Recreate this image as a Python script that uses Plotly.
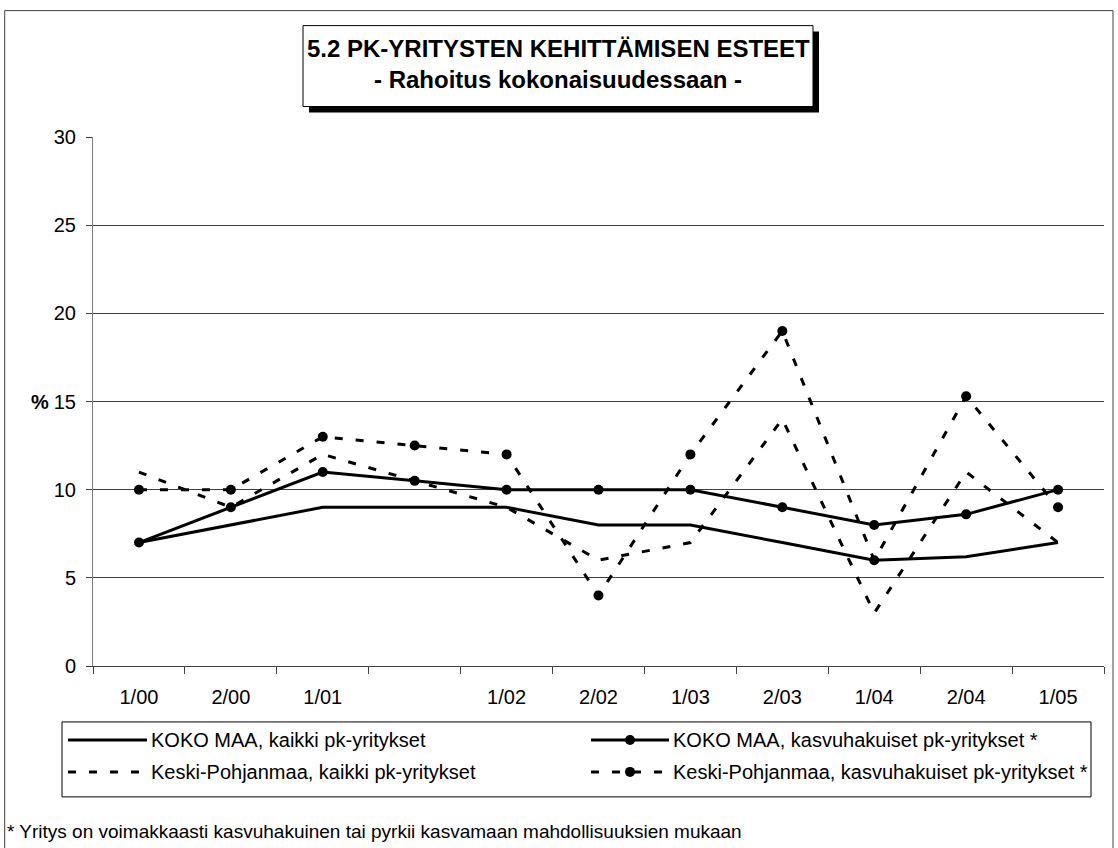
import plotly.graph_objects as go

# ---- data ----
categories = ["1/00", "2/00", "1/01", "", "1/02", "2/02", "1/03", "2/03", "1/04", "2/04", "1/05"]
koko_kaikki = [7, 8, 9, 9, 9, 8, 8, 7, 6, 6.2, 7]
koko_kasvu = [7, 9, 11, 10.5, 10, 10, 10, 9, 8, 8.6, 10]
keski_kaikki = [11, 9, 12, 10.5, 9, 6, 7, 14, 3, 11, 7]
keski_kasvu = [10, 10, 13, 12.5, 12, 4, 12, 19, 6, 15.3, 9]

series_names = [
    "KOKO MAA, kaikki pk-yritykset",
    "KOKO MAA, kasvuhakuiset pk-yritykset *",
    "Keski-Pohjanmaa, kaikki pk-yritykset",
    "Keski-Pohjanmaa, kasvuhakuiset pk-yritykset *",
]
y_ticks = [0, 5, 10, 15, 20, 25, 30]
title_lines = ["5.2 PK-YRITYSTEN KEHITTÄMISEN ESTEET", "- Rahoitus kokonaisuudessaan -"]
footnote = "* Yritys on voimakkaasti kasvuhakuinen tai pyrkii kasvamaan mahdollisuuksien mukaan"

# ---- geometry (pixels) ----
W, H = 1118, 848
L, R, T, B = 93, 1104, 136.5, 666
PW, PH = R - L, B - T
FONT = "Liberation Sans, Arial, sans-serif"
DASH = "8px,13px"
LW = 3
MS = 10


def px(x):
    return (x - L) / PW


def py(y):
    return (B - y) / PH


xs = list(range(len(categories)))

fig = go.Figure()
styles = [
    (koko_kaikki, "solid", "lines"),
    (koko_kasvu, "solid", "lines+markers"),
    (keski_kaikki, DASH, "lines"),
    (keski_kasvu, DASH, "lines+markers"),
]
for (vals, dash, mode), name in zip(styles, series_names):
    fig.add_trace(go.Scatter(
        x=xs, y=vals, name=name, mode=mode,
        line=dict(color="black", width=LW, dash=dash),
        marker=dict(color="black", size=MS, symbol="circle"),
        showlegend=False, cliponaxis=False,
    ))

shapes = []
# outer border
shapes.append(dict(type="rect", xref="paper", yref="paper",
                   x0=px(4.7), x1=px(1113), y0=py(10), y1=py(860),
                   line=dict(color="#404040", width=1), fillcolor="rgba(0,0,0,0)", layer="below"))
# title box shadow + box
shapes.append(dict(type="rect", xref="paper", yref="paper",
                   x0=px(309), x1=px(819), y0=py(31), y1=py(112),
                   line=dict(width=0), fillcolor="black", layer="above"))
shapes.append(dict(type="rect", xref="paper", yref="paper",
                   x0=px(303), x1=px(813), y0=py(25), y1=py(106),
                   line=dict(color="black", width=1), fillcolor="white", layer="above"))
# legend box
shapes.append(dict(type="rect", xref="paper", yref="paper",
                   x0=px(62), x1=px(1091), y0=py(722), y1=py(797),
                   line=dict(color="black", width=1), fillcolor="rgba(0,0,0,0)", layer="above"))

legend_items = [
    (series_names[0], 68, 147, 740, "solid", False),
    (series_names[1], 591, 669, 740, "solid", True),
    (series_names[2], 68, 147, 772, DASH, False),
    (series_names[3], 591, 669, 772, DASH, True),
]
annotations = []
for name, x0, x1, yy, dash, mk in legend_items:
    shapes.append(dict(type="line", xref="paper", yref="paper",
                       x0=px(x0), x1=px(x1), y0=py(yy), y1=py(yy),
                       line=dict(color="black", width=LW, dash=dash), layer="above"))
    if mk:
        cx = (x0 + x1) / 2
        shapes.append(dict(type="circle", xref="paper", yref="paper",
                           x0=px(cx - MS / 2), x1=px(cx + MS / 2),
                           y0=py(yy - MS / 2), y1=py(yy + MS / 2),
                           line=dict(color="black", width=0), fillcolor="black", layer="above"))
    annotations.append(dict(xref="paper", yref="paper", x=px(x1 + 2), y=py(yy),
                            xanchor="left", yanchor="middle", showarrow=False,
                            text=name, font=dict(family=FONT, size=20, color="black")))

# title
for txt, yy in zip(title_lines, [48, 79]):
    annotations.append(dict(xref="paper", yref="paper", x=px(558), y=py(yy),
                            xanchor="center", yanchor="middle", showarrow=False,
                            text="<b>" + txt + "</b>",
                            font=dict(family=FONT, size=24, color="black")))
# y-axis "%"
annotations.append(dict(xref="paper", yref="y", x=px(40), y=15,
                        xanchor="center", yanchor="middle", showarrow=False,
                        text="<b>%</b>", font=dict(family=FONT, size=20, color="black")))
# footnote
annotations.append(dict(xref="paper", yref="paper", x=px(5), y=py(832),
                        xanchor="left", yanchor="middle", showarrow=False,
                        text=footnote, font=dict(family=FONT, size=19, color="black")))

fig.update_layout(
    width=W, height=H,
    margin=dict(l=L, r=W - R, t=T, b=H - B, pad=0),
    paper_bgcolor="white", plot_bgcolor="white",
    font=dict(family=FONT, size=20, color="black"),
    showlegend=False,
    shapes=shapes, annotations=annotations,
    xaxis=dict(
        range=[-0.5, len(categories) - 0.5],
        tickmode="array", tickvals=xs, ticktext=categories,
        ticks="", showgrid=False, zeroline=False,
        showline=True, linecolor="#404040", linewidth=1,
        tickfont=dict(family=FONT, size=20, color="black"),
        ticklabelstandoff=13,
        minor=dict(tick0=-0.5, dtick=1, ticks="outside", ticklen=7,
                   tickcolor="#404040", tickwidth=1, showgrid=False),
        fixedrange=True,
    ),
    yaxis=dict(
        range=[0, 30], tickmode="array", tickvals=y_ticks,
        showgrid=True, gridcolor="#404040", gridwidth=1, zeroline=False,
        showline=True, linecolor="#808080", linewidth=1,
        ticks="outside", ticklen=6, tickcolor="#404040", tickwidth=1,
        tickfont=dict(family=FONT, size=20, color="black"),
        ticklabelstandoff=6,
        fixedrange=True,
    ),
)

fig.write_html("out.html", config={"displayModeBar": False},
               post_script="document.body.style.margin='0';document.body.style.overflow='hidden';")
